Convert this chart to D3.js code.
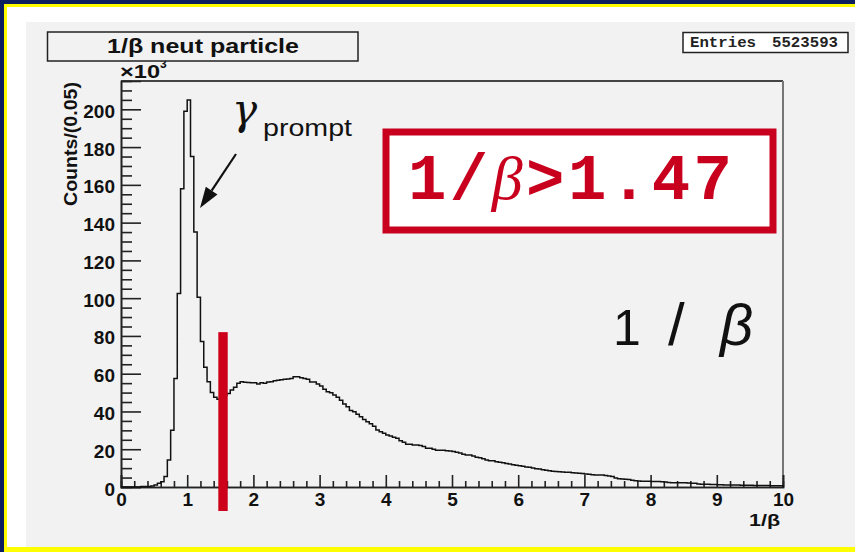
<!DOCTYPE html>
<html>
<head>
<meta charset="utf-8">
<script src="https://cdn.jsdelivr.net/npm/d3@7"></script>
<style>
  html, body { margin: 0; padding: 0; background: #0c1f5e; }
  svg { display: block; }
</style>
</head>
<body>
<svg id="chart" width="855" height="552"></svg>
<script>
// 1/beta distribution of neutral particles, 0.05-wide bins from 0 to 10 (counts in units of 10^3)
const binWidth = 0.05;
const binStart = 0;
const counts = [
  0, 0, 0, 0, 0, 0, 0.2, 0.3, 0.3, 0.5,
  1.0, 2.0, 2.8, 5.5, 14.3, 30, 57.5, 102.5, 158, 199,
  205, 175, 135, 100.5, 77, 63.4, 55.7, 50, 47.5, 46.5,
  47.5, 48.5, 49.5, 51.4, 52.8, 54.9, 55.7, 55.5, 55.3, 55.2,
  55.2, 54.5, 55.2, 55.0, 55.6, 55.8, 56.3, 56.5, 56.8, 57.0,
  57.2, 57.5, 58.4, 58.4, 57.8, 57.5, 57.0, 55.6, 55.6, 54.5,
  53.5, 51.7, 50.5, 49.9, 48.7, 47.5, 46.0, 44.0, 42.5, 40.5,
  39.8, 38.5, 37.2, 35.8, 34.6, 33.5, 32.2, 30.2, 29.2, 28.4,
  27.5, 27.0, 26.3, 25.8, 24.5, 23.7, 22.6, 22.6, 22.2, 22.2,
  22.0, 21.5, 20.5, 20.5, 20.0, 19.4, 19.4, 19.4, 19.2, 19.0,
  18.8, 18.4, 18.0, 17.4, 16.9, 16.9, 16.4, 15.7, 15.5, 15.0,
  14.3, 13.9, 13.9, 13.4, 13.1, 12.9, 12.5, 12.2, 11.8, 11.5,
  11.3, 11.0, 10.6, 10.4, 10.0, 9.7, 9.5, 9.2, 8.9, 8.6,
  8.4, 8.2, 8.1, 7.9, 7.8, 7.8, 7.6, 7.4, 7.3, 7.2,
  6.9, 6.7, 6.5, 6.4, 6.4, 6.3, 6.1, 5.8, 5.5, 4.8,
  4.4, 4.2, 4.1, 4.0, 3.6, 3.3, 3.2, 3.1, 3.0, 3.0,
  2.9, 2.9, 2.9, 2.8, 2.6, 2.4, 2.3, 2.3, 2.3, 2.2,
  2.2, 2.1, 2.0, 2.0, 1.6, 1.5, 1.4, 1.4, 1.3, 1.3,
  1.2, 1.2, 1.1, 1.1, 1.0, 1.0, 1.0, 0.9, 0.9, 0.9,
  0.9, 0.8, 0.8, 0.8, 0.8, 0.8, 0.7, 0.7, 0.7, 0.7
];

const xTicks = [0, 1, 2, 3, 4, 5, 6, 7, 8, 9, 10];
const yTicks = [0, 20, 40, 60, 80, 100, 120, 140, 160, 180, 200];
const cutValue = 1.47;          // selection threshold on 1/beta
const cutMarkerHeight = 82;     // top of the cut marker, in 10^3 counts
const entries = "5523593";

const titleText = "1/\u03B2 neut particle";
const yTitle = "Counts/(0.05)";

const svg = d3.select("#chart");

// page frame: navy, yellow rule, white margin, grey pad
svg.append("rect").attr("x", 0).attr("y", 0).attr("width", 855).attr("height", 552).attr("fill", "#0c1f5e");
svg.append("rect").attr("x", 4).attr("y", 4).attr("width", 851).attr("height", 548).attr("fill", "#ffff00");
svg.append("rect").attr("x", 7).attr("y", 7).attr("width", 848).attr("height", 540).attr("fill", "#ffffff");
svg.append("rect").attr("x", 26).attr("y", 22).attr("width", 829).attr("height", 525).attr("fill", "#f2f2f2");

const x = d3.scaleLinear().domain([0, 10]).range([121, 783]);
const y = d3.scaleLinear().domain([0, 215]).range([487, 81]);

const labelFont = "'Liberation Sans', Arial, Helvetica, sans-serif";

// histogram outline (step line over bin edges)
const steps = [[binStart, 0]];
counts.forEach((c, i) => {
  const x0 = binStart + i * binWidth;
  steps.push([x0, c]);
});
steps.push([binStart + counts.length * binWidth, counts[counts.length - 1]]);
steps.push([binStart + counts.length * binWidth, 0]);

const stepLine = d3.line()
  .x(d => x(d[0]))
  .y(d => y(d[1]))
  .curve(d3.curveStepAfter);

// top and right frame lines
svg.append("line").attr("x1", x(0)).attr("x2", x(10)).attr("y1", y(215)).attr("y2", y(215))
  .attr("stroke", "#444").attr("stroke-width", 2);
svg.append("line").attr("x1", x(10)).attr("x2", x(10)).attr("y1", y(215)).attr("y2", y(0))
  .attr("stroke", "#777").attr("stroke-width", 2);

// y axis: major and minor ticks pointing inward
const yMinor = d3.range(0, 215, 5).filter(v => v % 20 !== 0);
const yAxisMinor = svg.append("g").attr("transform", `translate(${x(0)},0)`)
  .call(d3.axisLeft(y).tickValues(yMinor).tickSize(-11).tickFormat(""));
const yAxis = svg.append("g").attr("transform", `translate(${x(0)},0)`)
  .call(d3.axisLeft(y).tickValues(yTicks).tickSize(-20).tickPadding(6));
[yAxisMinor, yAxis].forEach(g => {
  g.select(".domain").attr("stroke", "#222").attr("stroke-width", 1.6);
  g.selectAll(".tick line").attr("stroke", "#222").attr("stroke-width", 1.6);
});
yAxis.selectAll(".tick text")
  .attr("font-family", labelFont).attr("font-weight", "bold").attr("font-size", 19)
  .attr("fill", "#111").attr("dy", null).attr("y", 8);

// x axis: major and minor ticks pointing up
const xMinor = d3.range(0, 10.001, 0.2).filter(v => Math.abs(v - Math.round(v)) > 1e-6);
const xAxisMinor = svg.append("g").attr("transform", `translate(0,${y(0)})`)
  .call(d3.axisBottom(x).tickValues(xMinor).tickSize(-6).tickFormat(""));
const xAxis = svg.append("g").attr("transform", `translate(0,${y(0)})`)
  .call(d3.axisBottom(x).tickValues(xTicks).tickSize(-12).tickFormat(d3.format("d")));
[xAxisMinor, xAxis].forEach(g => {
  g.select(".domain").attr("stroke", "#222").attr("stroke-width", 1.6);
  g.selectAll(".tick line").attr("stroke", "#222").attr("stroke-width", 1.6);
});
xAxis.selectAll(".tick text")
  .attr("font-family", labelFont).attr("font-weight", "bold").attr("font-size", 19)
  .attr("fill", "#111").attr("dy", null).attr("y", 19);

// histogram
svg.append("path")
  .attr("d", stepLine(steps))
  .attr("fill", "none")
  .attr("stroke", "#111")
  .attr("stroke-width", 1.5);

// exponent marker above the y axis
svg.append("text")
  .attr("x", 120).attr("y", 78)
  .attr("font-family", labelFont).attr("font-weight", "bold").attr("font-size", 19)
  .attr("textLength", 40).attr("lengthAdjust", "spacingAndGlyphs")
  .attr("fill", "#111")
  .text("\u00D710");
svg.append("text")
  .attr("x", 160).attr("y", 68)
  .attr("font-family", labelFont).attr("font-weight", "bold").attr("font-size", 12)
  .attr("fill", "#111")
  .text("3");

// y axis title
svg.append("text")
  .attr("transform", `translate(77,${y(215) + 1}) rotate(-90)`)
  .attr("text-anchor", "end")
  .attr("font-family", labelFont).attr("font-weight", "bold").attr("font-size", 18.5)
  .attr("textLength", 124).attr("lengthAdjust", "spacingAndGlyphs")
  .attr("fill", "#111")
  .text(yTitle);

// x axis title
svg.append("text")
  .attr("x", 749).attr("y", 526)
  .attr("font-family", labelFont).attr("font-weight", "bold").attr("font-size", 16)
  .attr("textLength", 31).attr("lengthAdjust", "spacingAndGlyphs")
  .attr("fill", "#111")
  .text("1/\u03B2");

// histogram title box
svg.append("rect").attr("x", 47.5).attr("y", 32).attr("width", 310.5).attr("height", 29)
  .attr("fill", "#f2f2f2").attr("stroke", "#222").attr("stroke-width", 1.5);
svg.append("text")
  .attr("x", 107).attr("y", 52.5)
  .attr("font-family", labelFont).attr("font-weight", "bold").attr("font-size", 19.5)
  .attr("textLength", 192).attr("lengthAdjust", "spacingAndGlyphs")
  .attr("fill", "#111")
  .text(titleText);

// statistics box
svg.append("rect").attr("x", 683).attr("y", 32.5).attr("width", 165).attr("height", 20)
  .attr("fill", "#ffffff").attr("stroke", "#222").attr("stroke-width", 1.5);
const monoFont = "'Liberation Mono', 'Courier New', monospace";
svg.append("text").attr("x", 690).attr("y", 46.5)
  .attr("font-family", monoFont).attr("font-weight", "bold").attr("font-size", 14)
  .attr("textLength", 66).attr("lengthAdjust", "spacingAndGlyphs").attr("fill", "#222")
  .text("Entries");
svg.append("text").attr("x", 772).attr("y", 46.5)
  .attr("font-family", monoFont).attr("font-weight", "bold").attr("font-size", 14)
  .attr("textLength", 66).attr("lengthAdjust", "spacingAndGlyphs").attr("fill", "#222")
  .text(entries);

// cut marker
svg.append("rect")
  .attr("x", x(cutValue))
  .attr("y", y(cutMarkerHeight))
  .attr("width", 9.4)
  .attr("height", y(0) + 24 - y(cutMarkerHeight))
  .attr("fill", "#cc0019");

// cut annotation box
svg.append("rect").attr("x", 386).attr("y", 132).attr("width", 387).attr("height", 98)
  .attr("fill", "#ffffff").attr("stroke", "#c8001e").attr("stroke-width", 7);
const cutLabel = svg.append("text")
  .attr("x", 408).attr("y", 199)
  .attr("font-family", "'Liberation Mono', 'Courier New', monospace").attr("font-weight", "bold").attr("font-size", 64)
  .attr("textLength", 324).attr("lengthAdjust", "spacing")
  .attr("fill", "#c8001e");
cutLabel.append("tspan").text("1/");
cutLabel.append("tspan").attr("font-family", "'Liberation Serif', serif").attr("font-weight", "normal")
  .attr("font-style", "italic").attr("font-size", 62).text("\u03B2");
cutLabel.append("tspan").text(">" + cutValue.toFixed(2));

// large 1/beta label
const bigLabel = svg.append("text")
  .attr("y", 345)
  .attr("font-family", labelFont).attr("font-size", 50)
  .attr("fill", "#111");
bigLabel.append("tspan").attr("x", 613).text("1");
bigLabel.append("tspan").attr("x", 668).attr("font-size", 60).text("/");
bigLabel.append("tspan").attr("x", 720).attr("font-style", "italic").attr("font-size", 58).text("\u03B2");

// gamma prompt annotation
svg.append("text")
  .attr("x", 232).attr("y", 124)
  .attr("font-family", "'DejaVu Serif', 'Liberation Serif', serif")
  .attr("font-style", "italic").attr("font-size", 42)
  .attr("fill", "#111")
  .text("\u03B3");
svg.append("text")
  .attr("x", 263).attr("y", 136)
  .attr("font-family", labelFont).attr("font-size", 24)
  .attr("textLength", 89).attr("lengthAdjust", "spacingAndGlyphs")
  .attr("fill", "#111")
  .text("prompt");

// arrow pointing at the prompt-photon peak
const arrowStart = [236, 154];
const arrowTip = [200, 208];
const ang = Math.atan2(arrowTip[1] - arrowStart[1], arrowTip[0] - arrowStart[0]);
const headLen = 21, headHalf = 7;
const baseX = arrowTip[0] - headLen * Math.cos(ang);
const baseY = arrowTip[1] - headLen * Math.sin(ang);
svg.append("line")
  .attr("x1", arrowStart[0]).attr("y1", arrowStart[1])
  .attr("x2", baseX).attr("y2", baseY)
  .attr("stroke", "#111").attr("stroke-width", 2.2);
svg.append("path")
  .attr("d", d3.line()([
    arrowTip,
    [baseX + headHalf * Math.sin(ang), baseY - headHalf * Math.cos(ang)],
    [baseX - headHalf * Math.sin(ang), baseY + headHalf * Math.cos(ang)]
  ]) + "Z")
  .attr("fill", "#111");
</script>
</body>
</html>
